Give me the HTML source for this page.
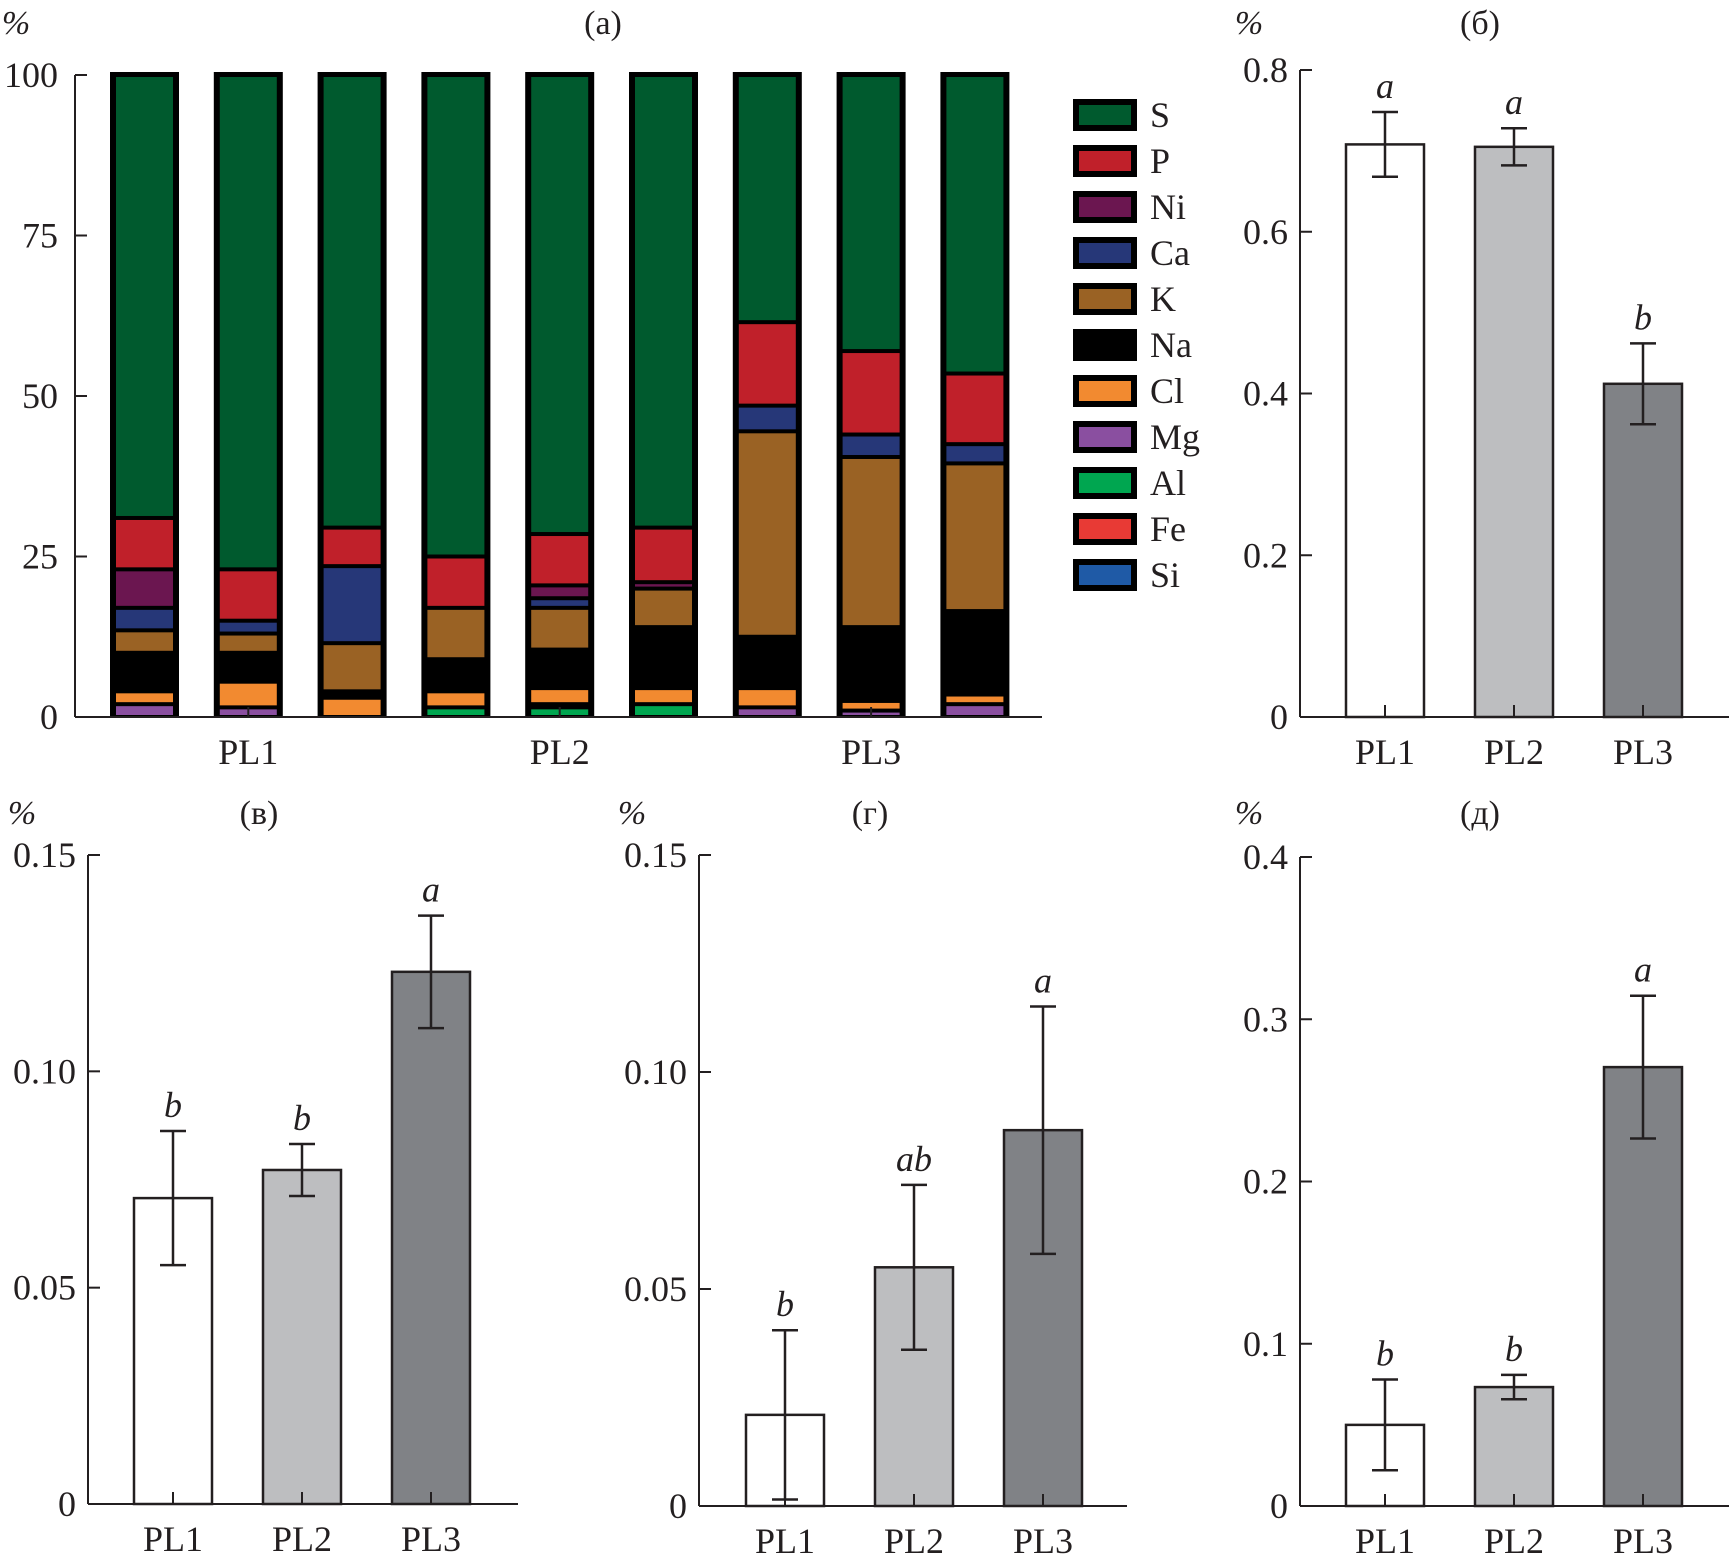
<!DOCTYPE html>
<html><head><meta charset="utf-8"><style>
html,body{margin:0;padding:0;background:#fff}
svg{display:block}
text{font-family:"Liberation Serif","DejaVu Serif",serif;fill:#231f20}
</style></head><body>
<svg id="fig" width="1729" height="1555" viewBox="0 0 1729 1555" xmlns="http://www.w3.org/2000/svg"></svg>
<script>
// ---- Panel (a) data ----
const elements = ["Si","Fe","Al","Mg","Cl","Na","K","Ca","Ni","P","S"];
const legendOrder = ["S","P","Ni","Ca","K","Na","Cl","Mg","Al","Fe","Si"];
const elemColors = {S:"#005a2e",P:"#c0202a",Ni:"#6b1650",Ca:"#263778",K:"#9a6224",Na:"#000000",Cl:"#f28a30",Mg:"#8a4fa0",Al:"#00a650",Fe:"#e83a35",Si:"#1f5aa6"};
const stackSi = [0,0,0,0,0,0,0,0,0];
const stackFe = [0,0,0,0,0,0,0,0,0];
const stackAl = [0,0,0,1.5,1.5,2,0,0,0];
const stackMg = [2,1.5,0,0,0.5,0,1.5,1,2];
const stackCl = [2,4,3,2.5,2.5,2.5,3,1.5,1.5];
const stackNa = [6,4.5,1,5,6,9.5,8,11.5,13];
const stackK  = [3.5,3,7.5,8,6.5,6,32,26.5,23];
const stackCa = [3.5,2,12,0,1.5,0,4,3.5,3];
const stackNi = [6,0,0,0,2,1,0,0,0];
const stackP  = [8,8,6,8,8,8.5,13,13,11];
const stackS  = [69,77,70.5,75,71.5,70.5,38.5,43,46.5];
const groupLabels = ["PL1","PL2","PL3"];
const ticksA = [0,25,50,75,100];

// ---- Bar panels data ----
const barCats = ["PL1","PL2","PL3"];
const bMeans = [0.708,0.705,0.412];
const bErrs = [0.04,0.023,0.05];
const bLetters = ["a","a","b"];
const bTicks = ["0","0.2","0.4","0.6","0.8"];
const vMeans = [0.0707,0.0772,0.123];
const vErrs = [0.0155,0.006,0.013];
const vLetters = ["b","b","a"];
const vTicks = ["0","0.05","0.10","0.15"];
const gMeans = [0.021,0.055,0.0866];
const gErrs = [0.0195,0.019,0.0285];
const gLetters = ["b","ab","a"];
const gTicks = ["0","0.05","0.10","0.15"];
const dMeans = [0.05,0.0733,0.2705];
const dErrs = [0.028,0.0075,0.044];
const dLetters = ["b","b","a"];
const dTicks = ["0","0.1","0.2","0.3","0.4"];
const barFills = ["#ffffff","#bdbec0","#808286"];

const NS="http://www.w3.org/2000/svg";
const svg=document.getElementById('fig');
function mk(tag,attrs,parent){const e=document.createElementNS(NS,tag);for(const k in attrs)e.setAttribute(k,attrs[k]);(parent||svg).appendChild(e);return e;}
function txt(s,x,y,size,anchor,parent,italic){const t=mk('text',{x:x,y:y,'font-size':size,'text-anchor':anchor||'middle'},parent);if(italic)t.setAttribute('font-style','italic');t.textContent=s;return t;}

// ---- Panel (a) ----
const gA=mk('g',{});


const aX0=75,aY0=717,aY1=75,aXend=1042;
function yA(v){return aY0-(aY0-aY1)*v/100;}
const stacks={Si:stackSi,Fe:stackFe,Al:stackAl,Mg:stackMg,Cl:stackCl,Na:stackNa,K:stackK,Ca:stackCa,Ni:stackNi,P:stackP,S:stackS};
const nBars=stackS.length;
function xBarA(i){return 113+i*103.8;}
const bwA=63;
for(let i=0;i<nBars;i++){
  let cum=0;
  const bg=mk('rect',{x:xBarA(i)-3,y:yA(100)-3,width:bwA+6,height:yA(0)-yA(100)+3,fill:'#000'},gA);
  
  
  for(const el of elements){
    const v=stacks[el][i];
    if(v>0){
      const top=yA(Math.min(100,cum+v)),bot=yA(cum);
      const r=mk('rect',{x:xBarA(i)+3,y:top+2,width:bwA-6,height:Math.max(0,bot-top-4),fill:elemColors[el]},gA);
      
      
    }
    cum+=v;
  }
}
mk('line',{x1:aX0,y1:aY1,x2:aX0,y2:aY0,stroke:'#231f20','stroke-width':2},gA);
mk('line',{x1:aX0,y1:aY0,x2:aXend,y2:aY0,stroke:'#231f20','stroke-width':2},gA);
ticksA.forEach(t=>{mk('line',{x1:aX0,y1:yA(t),x2:aX0+12,y2:yA(t),stroke:'#231f20','stroke-width':2},gA);
  const tl=txt(String(t),58,yA(t)+12,36,'end',gA);
  });
groupLabels.forEach((g,j)=>{const cx=xBarA(j*3+1)+bwA/2;
  mk('line',{x1:cx,y1:aY0,x2:cx,y2:aY0-10,stroke:'#231f20','stroke-width':2},gA);
  const t=txt(g,cx,764,36,'middle',gA);});
const pa=txt('%',16,34,34,'middle',gA,true);
const ta=txt('(a)',603,34,34,'middle',gA);
const lg=mk('g',{},gA);


legendOrder.forEach((el,k)=>{const y=115+k*46;
  const e=mk('g',{},lg);
  
  
  mk('rect',{x:1073,y:y-16,width:64,height:32,fill:'#000'},e);
  mk('rect',{x:1079,y:y-10,width:52,height:20,fill:elemColors[el]},e);
  txt(el,1150,y+12,36,'start',e);});

// ---- Bar panels ----
function barPanel(name,o,means,errs,letters,ticks,maxV){
  const g=mk('g',{});
  
  
  const y=v=>o.y0-(o.y0-o.y1)*v/maxV;
  mk('line',{x1:o.x0,y1:o.y1,x2:o.x0,y2:o.y0,stroke:'#231f20','stroke-width':2},g);
  mk('line',{x1:o.x0,y1:o.y0,x2:o.xend,y2:o.y0,stroke:'#231f20','stroke-width':2},g);
  ticks.forEach(t=>{const v=parseFloat(t);mk('line',{x1:o.x0,y1:y(v),x2:o.x0+12,y2:y(v),stroke:'#231f20','stroke-width':2},g);
    const tl=txt(t,o.x0-12,y(v)+12,36,'end',g);});
  means.forEach((m,i)=>{const cx=o.bx[i]+39;
    const r=mk('rect',{x:o.bx[i],y:y(m),width:78,height:o.y0-y(m),fill:barFills[i],stroke:'#231f20','stroke-width':2.5},g);
    
    const eb=mk('g',{},g);
    
    const hi=y(m+errs[i]),lo=y(Math.max(0,m-errs[i]));
    mk('line',{x1:cx,y1:hi,x2:cx,y2:lo,stroke:'#231f20','stroke-width':2.5},eb);
    mk('line',{x1:cx-13,y1:hi,x2:cx+13,y2:hi,stroke:'#231f20','stroke-width':2.5},eb);
    mk('line',{x1:cx-13,y1:lo,x2:cx+13,y2:lo,stroke:'#231f20','stroke-width':2.5},eb);
    mk('line',{x1:cx,y1:o.y0,x2:cx,y2:o.y0-12,stroke:'#231f20','stroke-width':2},g);
    const lt=txt(letters[i],cx,hi-14,36,'middle',g,true);
    const xl=txt(barCats[i],cx,o.y0+47,36,'middle',g);
  });
  const pc=txt('%',o.pctX,o.titleY,34,'middle',g,true);
  const tt=txt(o.title,o.titleX,o.titleY,34,'middle',g);
}
barPanel('b',{x0:1300,y0:717,y1:70,xend:1729,bx:[1346,1475,1604],pctX:1249,titleX:1480,titleY:34,title:'(б)'},bMeans,bErrs,bLetters,bTicks,0.8);
barPanel('v',{x0:88,y0:1504,y1:855,xend:518,bx:[134,263,392],pctX:22,titleX:259,titleY:824,title:'(в)'},vMeans,vErrs,vLetters,vTicks,0.15);
barPanel('g',{x0:699,y0:1506,y1:855,xend:1127,bx:[746,875,1004],pctX:632,titleX:870,titleY:824,title:'(г)'},gMeans,gErrs,gLetters,gTicks,0.15);
barPanel('d',{x0:1300,y0:1506,y1:857,xend:1729,bx:[1346,1475,1604],pctX:1249,titleX:1480,titleY:824,title:'(д)'},dMeans,dErrs,dLetters,dTicks,0.4);
</script>
</body></html>
